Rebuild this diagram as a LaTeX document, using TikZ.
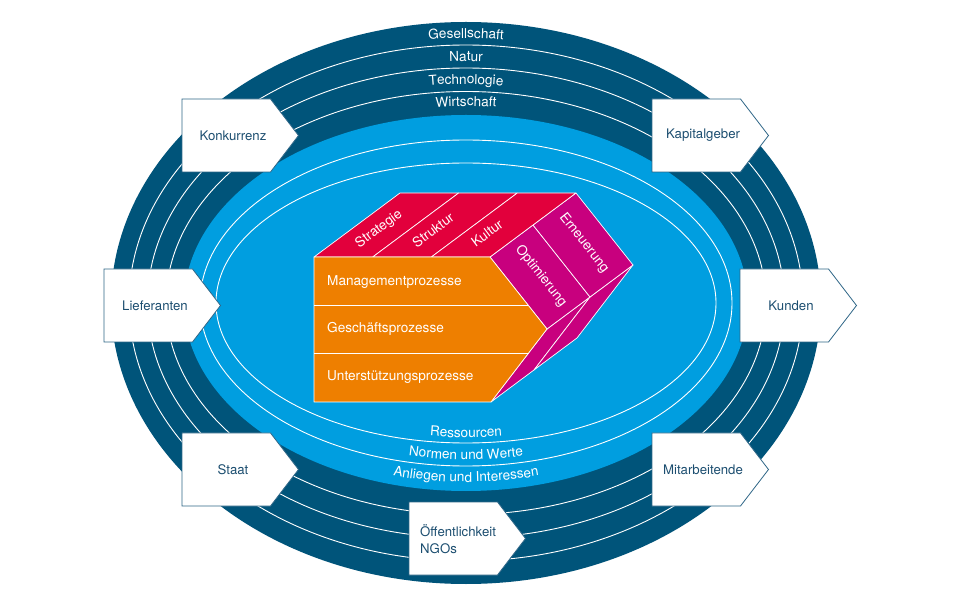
\documentclass[tikz,border=0pt]{standalone}
\usepackage{fontspec}
\setmainfont{TeX Gyre Heros}
\usetikzlibrary{calc,decorations.text}
\definecolor{navy}{RGB}{0,84,122}
\definecolor{lblue}{RGB}{0,158,224}
\definecolor{pred}{RGB}{226,0,60}
\definecolor{pmag}{RGB}{200,0,126}
\definecolor{porange}{RGB}{238,127,0}
\definecolor{boxline}{RGB}{47,102,135}
\definecolor{boxtext}{RGB}{28,78,112}
\newcommand\ringfont{\color{white}\fontsize{13.6}{15}\selectfont}
% name, left x, top y, text
\newcommand\stake[4]{%
  \draw[stakebox] (#2,#3) -- ++(88.5,0) -- ++(28,-36.5) -- ++(-28,-36.5) -- ++(-88.5,0) -- cycle;
  \node[stakelabel] (#1) at (#2+51,#3-36.5) {#4};}
\begin{document}
\begin{tikzpicture}[x=1pt,y=1pt,
  ringline/.style={draw=white,line width=0.9pt},
  ringlabel/.style={decorate,decoration={text along path,text align=center,text={|\ringfont|#1}}},
  face/.style={draw=white,line width=0.7pt,line join=round},
  prismtext/.style={text=white,font=\fontsize{13.6}{15}\selectfont,inner sep=0pt},
  stakebox/.style={fill=white,draw=boxline,line width=0.8pt,line join=miter},
  stakelabel/.style={text=boxtext,font=\fontsize{13.2}{17}\selectfont,inner sep=0pt}]
\useasboundingbox (0,0) rectangle (964,603);
\fill[white] (0,0) rectangle (964,603);
\coordinate (C) at (466,300);
% outer rings
\fill[navy] (C) ellipse[x radius=355,y radius=281];
\foreach \a/\b in {337/258,318.5/235,300/211.5}
  \draw[ringline] (C) ellipse[x radius=\a,y radius=\b];
% inner area
\fill[lblue] (C) ellipse[x radius=282,y radius=188];
\foreach \a/\b in {266/163,250/140}
  \draw[ringline] (C) ellipse[x radius=\a,y radius=\b];
% ring labels (top)
\path[ringlabel=Gesellschaft] ($(C)+(120:342 and 265)$) arc[start angle=120,end angle=60,x radius=342,y radius=265];
\path[ringlabel=Natur] ($(C)+(120:324 and 242)$) arc[start angle=120,end angle=60,x radius=324,y radius=242];
\path[ringlabel=Technologie] ($(C)+(120:306 and 219)$) arc[start angle=120,end angle=60,x radius=306,y radius=219];
\path[ringlabel=Wirtschaft] ($(C)+(120:289 and 197)$) arc[start angle=120,end angle=60,x radius=289,y radius=197];
% ring labels (bottom)
\path[ringlabel=Ressourcen] ($(C)+(235:240 and 134.5)$) arc[start angle=235,end angle=305,x radius=240,y radius=134.5];
\path[ringlabel={Normen und Werte}] ($(C)+(235:261.5 and 156.5)$) arc[start angle=235,end angle=305,x radius=261.5,y radius=156.5];
\path[ringlabel={Anliegen und Interessen}] ($(C)+(235:276 and 179)$) arc[start angle=235,end angle=305,x radius=276,y radius=179];
% prism
\coordinate (P1) at (314,346);
\coordinate (P2) at (490,346);
\coordinate (A) at (547,274);
\coordinate (D) at (491,201);
\coordinate (Q) at (314,201);
\filldraw[face,fill=pmag] (A) -- (D) -- ($(D)+(43,32)$) -- ($(A)+(43,32)$) -- cycle;
\filldraw[face,fill=pmag] ($(A)+(43,32)$) -- ($(D)+(43,32)$) -- ($(D)+(86,64)$) -- ($(A)+(86,64)$) -- cycle;
\filldraw[face,fill=pmag] (P2) -- (A) -- ($(A)+(43,32)$) -- ($(P2)+(43,32)$) -- cycle;
\filldraw[face,fill=pmag] ($(P2)+(43,32)$) -- ($(A)+(43,32)$) -- ($(A)+(86,64)$) -- ($(P2)+(86,64)$) -- cycle;
\filldraw[face,fill=pred] (314,346) -- (372.67,346) -- (458.67,410) -- (400,410) -- cycle;
\filldraw[face,fill=pred] (372.67,346) -- (431.33,346) -- (517.33,410) -- (458.67,410) -- cycle;
\filldraw[face,fill=pred] (431.33,346) -- (490,346) -- (576,410) -- (517.33,410) -- cycle;
\filldraw[face,fill=porange] (P1) -- (P2) -- (A) -- (D) -- (Q) -- cycle;
\draw[face] (314,298) -- (528,298);
\draw[face] (314,250) -- (528.6,250);
\node[prismtext,anchor=base west] (mgmt) at (327,317) {Managementprozesse};
\node[prismtext,anchor=base west] (gesch) at (327,270) {Geschäftsprozesse};
\node[prismtext,anchor=base west] (unter) at (327,222) {Unterstützungsprozesse};
\node[prismtext,rotate=36.7] (strat) at (379,374) {Strategie};
\node[prismtext,rotate=36.7] (strukt) at (433,373) {Struktur};
\node[prismtext,rotate=36.7] (kult) at (487,370) {Kultur};
\node[prismtext,rotate=-51.6] (opt) at (541,327) {Optimierung};
\node[prismtext,rotate=-51.6] (ern) at (584,360) {Erneuerung};
% stakeholder boxes
\stake{konk}{182}{504}{Konkurrenz}
\stake{kap}{652}{504}{Kapitalgeber}
\stake{lief}{104}{334}{Lieferanten}
\stake{kund}{740}{334}{Kunden}
\stake{staat}{182}{170}{Staat}
\stake{mitarb}{652}{170}{Mitarbeitende}
\draw[stakebox] (409,101) -- ++(88.5,0) -- ++(28,-36.5) -- ++(-28,-36.5) -- ++(-88.5,0) -- cycle;
\node[stakelabel,align=left,anchor=west] (oeff) at (420,64) {Öffentlichkeit\\NGOs};
\end{tikzpicture}
\end{document}
